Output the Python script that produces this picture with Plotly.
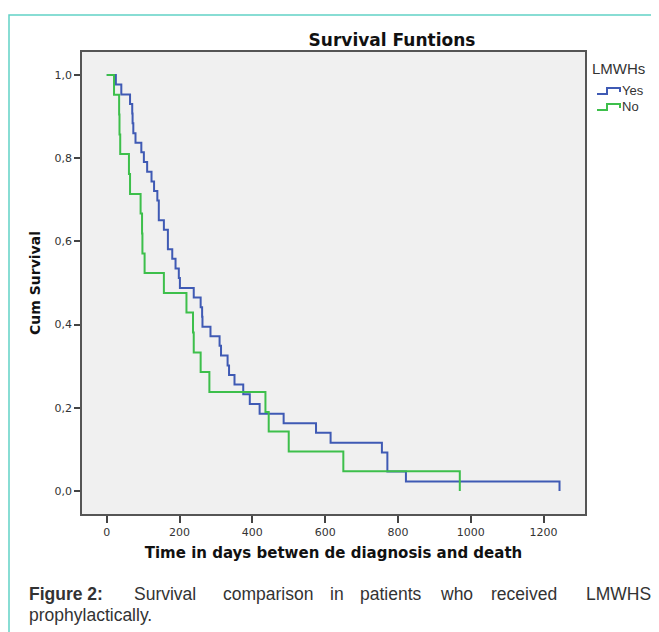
import plotly.graph_objects as go

# ---------------- data ----------------
yes_days = [0, 25, 40, 64, 70, 71, 73, 79, 95, 102, 111, 123, 130, 139, 143, 157, 168, 180,
            189, 198, 201, 239, 258, 262, 263, 285, 310, 314, 332, 336, 351, 375, 393, 420,
            486, 575, 615, 756, 771, 822, 1244]
yes_surv = [1.0, 0.977, 0.953, 0.930, 0.907, 0.884, 0.860, 0.837, 0.814, 0.791, 0.767, 0.744,
            0.721, 0.698, 0.651, 0.628, 0.581, 0.558, 0.535, 0.512, 0.488, 0.465, 0.442, 0.419,
            0.395, 0.372, 0.349, 0.326, 0.302, 0.279, 0.256, 0.233, 0.209, 0.186, 0.163, 0.140,
            0.116, 0.093, 0.047, 0.023, 0.0]

no_days = [0, 20, 34, 35, 37, 61, 64, 93, 97, 98, 104, 157, 219, 237, 239, 258, 282, 436,
           445, 500, 650, 970]
no_surv = [1.0, 0.952, 0.905, 0.857, 0.810, 0.762, 0.714, 0.667, 0.619, 0.571, 0.524, 0.476,
           0.429, 0.381, 0.333, 0.286, 0.238, 0.190, 0.143, 0.095, 0.048, 0.0]

x_ticks = [0, 200, 400, 600, 800, 1000, 1200]
y_ticks = [0.0, 0.2, 0.4, 0.6, 0.8, 1.0]
y_tick_labels = ["0,0", "0,2", "0,4", "0,6", "0,8", "1,0"]

series_names = ["Yes", "No"]
legend_title = "LMWHs"
chart_title = "Survival Funtions"
x_title = "Time in days betwen de diagnosis and death"
y_title = "Cum Survival"

# ---------------- style / layout ----------------
BLUE = "#3F5AB4"
GREEN = "#3DBF4B"
OFF = 8                      # page body margin of the html page
W, H = 659 - OFF, 632 - OFF
BOX_L, BOX_R, BOX_T, BOX_B = 82, 585, 52, 514   # plot box in window pixels
ML, MT = BOX_L - OFF, BOX_T - OFF
PW, PH = BOX_R - BOX_L, BOX_B - BOX_T
MR, MB = W - ML - PW, H - MT - PH


def px(x):
    return (x - BOX_L) / PW


def py(y):
    return (BOX_B - y) / PH


fig = go.Figure()
fig.add_trace(go.Scatter(x=yes_days, y=yes_surv, mode="lines", name=series_names[0],
                         line=dict(color=BLUE, width=2, shape="hv"), showlegend=False))
fig.add_trace(go.Scatter(x=no_days, y=no_surv, mode="lines", name=series_names[1],
                         line=dict(color=GREEN, width=2, shape="hv"), showlegend=False))

shapes = []
# outer teal frame (cut by the picture edges)
shapes.append(dict(type="rect", xref="paper", yref="paper",
                   x0=px(9), x1=px(700), y0=py(700), y1=py(15),
                   line=dict(color="#62D2C6", width=1.5), layer="below"))
# manual legend step icons
for i, col in enumerate([BLUE, GREEN]):
    yb = 94 + 16 * i
    path = "M {a},{b} L {c},{b} L {c},{d} L {e},{d} L {e},{f}".format(
        a=px(597), b=py(yb), c=px(607), d=py(yb - 6), e=px(620), f=py(yb - 2))
    shapes.append(dict(type="path", xref="paper", yref="paper", path=path,
                       line=dict(color=col, width=2)))

ann = []
ann.append(dict(text=legend_title, x=px(590), y=py(68), xref="paper", yref="paper",
                xanchor="left", yanchor="middle", showarrow=False,
                font=dict(family="Liberation Sans, Arial", size=15, color="#333333")))
for i, nm in enumerate(series_names):
    ann.append(dict(text=nm, x=px(620), y=py(90 + 16 * i), xref="paper", yref="paper",
                    xanchor="left", yanchor="middle", showarrow=False,
                    font=dict(family="Liberation Sans, Arial", size=13, color="#333333")))

# caption (justified first line emulated word by word)
cap_font = dict(family="Liberation Sans, Arial", size=17.5, color="#333333")
ann.append(dict(text="<b>Figure 2:</b>", x=px(27), y=py(594), xref="paper", yref="paper",
                xanchor="left", yanchor="middle", showarrow=False, font=cap_font))
words = [("Survival", 165), ("comparison", 268), ("in", 337), ("patients", 391),
         ("who", 456), ("received", 524)]
for wd, cx in words:
    ann.append(dict(text=wd, x=px(cx), y=py(594), xref="paper", yref="paper",
                    xanchor="center", yanchor="middle", showarrow=False, font=cap_font))
ann.append(dict(text="LMWHS", x=px(653), y=py(594), xref="paper", yref="paper",
                xanchor="right", yanchor="middle", showarrow=False, font=cap_font))
ann.append(dict(text="prophylactically.", x=px(27), y=py(615), xref="paper", yref="paper",
                xanchor="left", yanchor="middle", showarrow=False, font=cap_font))

fig.update_layout(
    width=W, height=H,
    margin=dict(l=ML, r=MR, t=MT, b=MB),
    paper_bgcolor="white",
    plot_bgcolor="#F0F0F0",
    title=dict(text="<b>" + chart_title + "</b>", xref="paper", x=px(392), xanchor="center",
               yref="container", y=1 - (40 - OFF) / H, yanchor="middle",
               font=dict(family="DejaVu Sans", size=17, color="#111111")),
    xaxis=dict(range=[-68, 1314], tickvals=x_ticks, ticks="outside", ticklen=7,
               tickwidth=1.5, tickcolor="#444444", showline=True, mirror=True,
               linecolor="#555555", linewidth=1.5, showgrid=False, zeroline=False,
               tickfont=dict(family="DejaVu Sans", size=11, color="#333333"),
               title=dict(text="<b>" + x_title + "</b>", standoff=10,
                          font=dict(family="DejaVu Sans", size=15, color="#111111"))),
    yaxis=dict(range=[-0.055, 1.055], tickvals=y_ticks, ticktext=y_tick_labels,
               ticks="outside", ticklen=6, tickwidth=1.5, tickcolor="#444444",
               showline=True, mirror=True, linecolor="#555555", linewidth=1.5,
               showgrid=False, zeroline=False,
               tickfont=dict(family="DejaVu Sans", size=11, color="#333333"),
               title=dict(text="<b>" + y_title + "</b>", standoff=11,
                          font=dict(family="DejaVu Sans", size=14, color="#111111"))),
    shapes=shapes,
    annotations=ann,
    showlegend=False,
)

fig.write_html("out.html")
